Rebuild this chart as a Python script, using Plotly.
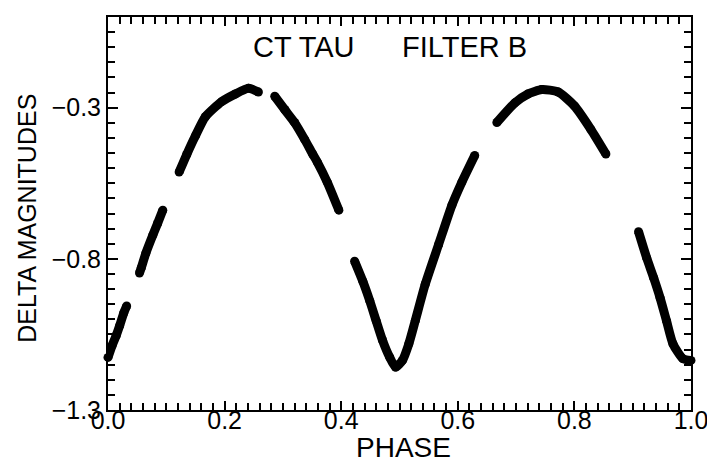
import plotly.graph_objects as go

# Light-curve segments (phase, delta magnitude)
seg1_phase = [0.000, 0.007, 0.014, 0.020, 0.027, 0.032]
seg1_mag = [-1.126, -1.087, -1.054, -1.021, -0.979, -0.956]

seg2_phase = [0.054, 0.057, 0.065, 0.077, 0.085, 0.094]
seg2_mag = [-0.847, -0.830, -0.781, -0.721, -0.683, -0.639]

seg3_phase = [0.122, 0.135, 0.150, 0.167, 0.195, 0.218, 0.241, 0.258]
seg3_mag = [-0.513, -0.455, -0.393, -0.330, -0.280, -0.255, -0.236, -0.248]

seg4_phase = [0.286, 0.303, 0.320, 0.337, 0.351, 0.359, 0.376, 0.396]
seg4_mag = [-0.262, -0.306, -0.349, -0.404, -0.453, -0.480, -0.546, -0.639]

seg5_phase = [0.423, 0.437, 0.449, 0.460, 0.471, 0.483, 0.493, 0.505,
              0.516, 0.527, 0.544, 0.567, 0.590, 0.607, 0.629]
seg5_mag = [-0.808, -0.874, -0.939, -1.005, -1.070, -1.125, -1.158, -1.136,
            -1.081, -1.005, -0.885, -0.753, -0.622, -0.546, -0.458]

seg6_phase = [0.667, 0.698, 0.720, 0.744, 0.772, 0.800, 0.828, 0.854]
seg6_mag = [-0.349, -0.284, -0.255, -0.240, -0.248, -0.294, -0.371, -0.453]

seg7_phase = [0.910, 0.924, 0.936, 0.947, 0.958, 0.969, 0.986, 1.000]
seg7_mag = [-0.710, -0.797, -0.863, -0.929, -1.005, -1.081, -1.130, -1.136]

segments = [
    (seg1_phase, seg1_mag), (seg2_phase, seg2_mag), (seg3_phase, seg3_mag),
    (seg4_phase, seg4_mag), (seg5_phase, seg5_mag), (seg6_phase, seg6_mag),
    (seg7_phase, seg7_mag),
]

x_ticks = [0.0, 0.2, 0.4, 0.6, 0.8, 1.0]
x_ticklabels = ["0.0", "0.2", "0.4", "0.6", "0.8", "1.0"]
y_ticks = [-1.3, -0.8, -0.3]
y_ticklabels = ["\u22121.3", "\u22120.8", "\u22120.3"]

FONT = "Liberation Sans, Arial, sans-serif"

fig = go.Figure()
for ph, mg in segments:
    fig.add_trace(go.Scatter(
        x=ph, y=mg, mode="lines+markers",
        line=dict(color="black", width=9, shape="spline", smoothing=0.6),
        marker=dict(color="black", size=9),
        showlegend=False, hoverinfo="skip", cliponaxis=False,
    ))

axis_common = dict(
    showline=True, linecolor="black", linewidth=2, mirror="ticks",
    ticks="inside", tickcolor="black", tickwidth=1.5,
    showgrid=False, zeroline=False, ticklabeloverflow="allow",
    tickfont=dict(family=FONT, size=25, color="black"),
)

fig.update_xaxes(
    range=[0.0, 1.0], tickvals=x_ticks, ticktext=x_ticklabels, ticklen=9,
    ticklabelstandoff=-13,
    minor=dict(dtick=0.02, tick0=0.0, ticks="inside", ticklen=7,
               tickcolor="black", tickwidth=1.5),
    **axis_common,
)
fig.update_yaxes(
    range=[-1.3, 0.0], tickvals=y_ticks, ticktext=y_ticklabels, ticklen=10,
    minor=dict(dtick=0.05, tick0=-1.3, ticks="inside", ticklen=7,
               tickcolor="black", tickwidth=1.5),
    **axis_common,
)

# the page body adds an 8 px margin, so the figure is 8 px smaller
fig.update_layout(
    width=707, height=454,
    margin=dict(l=100, r=14, t=7, b=52),
    paper_bgcolor="white", plot_bgcolor="white",
    annotations=[
        dict(text="CT TAU", x=0.336, y=0.924, xref="paper", yref="paper",
             showarrow=False, xanchor="center", yanchor="middle",
             font=dict(family=FONT, size=29, color="black")),
        dict(text="FILTER B", x=0.612, y=0.924, xref="paper", yref="paper",
             showarrow=False, xanchor="center", yanchor="middle",
             font=dict(family=FONT, size=29, color="black")),
        dict(text="PHASE", x=0.5076, y=-0.096, xref="paper", yref="paper",
             showarrow=False, xanchor="center", yanchor="middle",
             font=dict(family=FONT, size=28, color="black")),
        dict(text="DELTA MAGNITUDES", x=-0.139, y=0.489, xref="paper", yref="paper",
             showarrow=False, xanchor="center", yanchor="middle", textangle=-90,
             font=dict(family=FONT, size=25, color="black")),
    ],
)

fig.write_html("out.html")
